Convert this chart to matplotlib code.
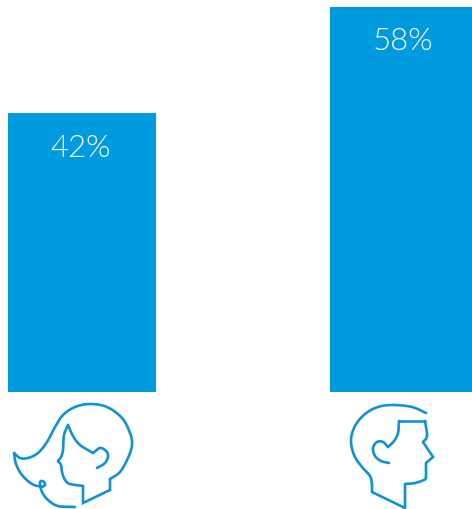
import os
import numpy as np
import matplotlib
matplotlib.use('Agg')
import matplotlib.pyplot as plt
from matplotlib import font_manager as fm

groups = ['Women', 'Men']
shares = [42, 58]
labels = ['42%', '58%']

BLUE = '#009bde'
LINE = '#0f93d2'

# icon outlines, traced in picture pixels; curves get smoothed, straights do not
woman_curves = [
    [(14, 453), (20, 458), (28, 458), (38, 453), (47, 442), (55, 427), (63, 415), (75, 407), (90, 404),
     (107, 407), (122, 418), (130, 433), (132, 445), (128, 458), (120, 472), (110, 479)],
    [(83, 486), (70, 484), (65, 480), (62, 472), (61, 465), (58, 461)],
    [(58, 461), (61, 457), (63, 450), (64, 435), (68, 425)],
    [(68, 425), (73, 436), (80, 445), (93, 453)],
    [(93, 453), (100, 448), (106, 451), (108, 456), (105, 463), (97, 468)],
    [(14, 453), (16, 464), (22, 475), (32, 484), (42, 487)],
    [(42, 487), (45, 485), (44, 482), (41, 481), (40, 484), (42, 492), (48, 500), (58, 506), (75, 507)],
]
woman_straights = [[(110, 479), (110, 490), (83, 503), (83, 486)]]

man_curves = [
    [(426, 413), (412, 407), (393, 405), (378, 407), (365, 414), (355, 426), (351, 440), (354, 455),
     (362, 467), (370, 476), (372, 484)],
    [(405, 484), (415, 483), (424, 480), (426, 478)],
    [(423, 442), (427, 436), (425, 421)],
    [(399, 421), (398, 433), (394, 441), (388, 447)],
    [(388, 447), (383, 442), (377, 442), (373, 448), (375, 456), (381, 461), (389, 463)],
]
man_straights = [
    [(372, 484), (372, 492), (405, 508), (405, 484)],
    [(426, 478), (426, 463), (433, 457), (423, 442)],
    [(425, 421), (399, 421)],
]


def smooth(points, n=12):
    # catmull-rom through the traced points
    p = np.array(points, dtype=float)
    p = np.vstack([2 * p[0] - p[1], p, 2 * p[-1] - p[-2]])
    out = []
    for i in range(1, len(p) - 2):
        for t in np.linspace(0, 1, n):
            out.append(0.5 * (2 * p[i] + (p[i + 1] - p[i - 1]) * t
                              + (2 * p[i - 1] - 5 * p[i] + 4 * p[i + 1] - p[i + 2]) * t ** 2
                              + (3 * p[i] - p[i - 1] - 3 * p[i + 1] + p[i + 2]) * t ** 3))
    return np.array(out)


W, H = 472, 509
fig = plt.figure(figsize=(W / 100, H / 100), dpi=100)

ax = fig.add_axes([0, (H - 392) / H, 1, 392 / H])
ax.bar(range(len(groups)), shares, width=148 / 322, color=BLUE)
ax.set_xlim(-82 / 322, 390 / 322)
ax.set_ylim(0, 59.04)
ax.axis('off')

# pick the real Light cut, weight='light' lands on Hairline
light = [f.fname for f in fm.fontManager.ttflist
         if f.name in ('Lato', 'Open Sans', 'Roboto') and os.path.basename(f.fname).endswith('-Light.ttf')]
font = fm.FontProperties(fname=sorted(light)[0], size=22.5) if light else fm.FontProperties(family='Open Sans', size=22.5)
for i, v in enumerate(shares):
    ax.annotate(labels[i], (i, v), xytext=(-1, -35), textcoords='offset pixels',
                ha='center', va='center', color='white', fontproperties=font)

icons = fig.add_axes([0, 0, 1, 1])
icons.set_xlim(0, W)
icons.set_ylim(H, 0)
icons.axis('off')
icons.patch.set_alpha(0)
for part in woman_curves + man_curves:
    xy = smooth(part)
    icons.plot(xy[:, 0], xy[:, 1], color=LINE, lw=1.9, solid_capstyle='round')
for part in woman_straights + man_straights:
    xy = np.array(part)
    icons.plot(xy[:, 0], xy[:, 1], color=LINE, lw=1.9, solid_capstyle='round', solid_joinstyle='miter')

fig.savefig('out.png', dpi=100)
